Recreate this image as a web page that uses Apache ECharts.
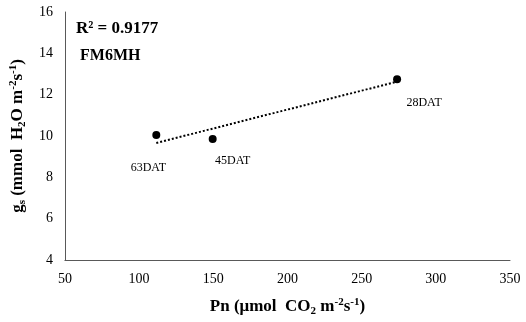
<!DOCTYPE html>
<html>
<head>
<meta charset="utf-8">
<script src="https://cdn.jsdelivr.net/npm/echarts@6/dist/echarts.min.js"></script>
<style>
  html, body { margin: 0; padding: 0; background: #fff; }
  #chart { width: 526px; height: 322px; }
</style>
</head>
<body>
<div id="chart"></div>
<script type="text/javascript">
	// Pn vs gs, FM6MH
	var stages = ['63DAT', '45DAT', '28DAT'];
	var pn = [111.6, 149.6, 273.9];
	var gs = [10.05, 9.85, 12.75];
	var labelOffsets = [[-8, 33], [20, 22], [27, 24]];

	// least squares trendline from the points
	function linearFit(xs, ys) {
		var n = xs.length, mx = 0, my = 0, sxy = 0, sxx = 0;
		for (var i = 0; i < n; i++) { mx += xs[i] / n; my += ys[i] / n; }
		for (var j = 0; j < n; j++) {
			sxy += (xs[j] - mx) * (ys[j] - my);
			sxx += (xs[j] - mx) * (xs[j] - mx);
		}
		var b = sxy / sxx;
		return { slope: b, intercept: my - b * mx };
	}
	var fit = linearFit(pn, gs);
	var xMin = Math.min.apply(null, pn), xMax = Math.max.apply(null, pn);
	var trend = [
		[xMin, fit.intercept + fit.slope * xMin],
		[xMax, fit.intercept + fit.slope * xMax]
	];

	var font = '"Liberation Serif", "Times New Roman", serif';
	var pts = [];
	for (var i = 0; i < stages.length; i++) {
		pts.push({
			value: [pn[i], gs[i]],
			label: { offset: labelOffsets[i] }
		});
	}

	var richName = {
		n: { fontFamily: font, fontSize: 17, fontWeight: 'bold', color: '#000', lineHeight: 20, verticalAlign: 'middle' },
		sub: { fontFamily: font, fontSize: 11, fontWeight: 'bold', color: '#000', lineHeight: 20, verticalAlign: 'bottom' },
		sup: { fontFamily: font, fontSize: 11, fontWeight: 'bold', color: '#000', lineHeight: 20, verticalAlign: 'top' }
	};

	var chart = echarts.init(document.getElementById('chart'));
	var option = {
		animation: false,
		title: [
			{
				text: 'R² = 0.9177',
				left: 71, top: 15,
				textStyle: { fontFamily: font, fontSize: 17, fontWeight: 'bold', color: '#000' }
			},
			{
				text: 'FM6MH',
				left: 75, top: 43,
				textStyle: { fontFamily: font, fontSize: 16, fontWeight: 'bold', color: '#000' }
			}
		],
		grid: { left: 62, right: 16, top: 12, bottom: 56 },
		xAxis: {
			type: 'value',
			min: 50, max: 350, interval: 50,
			name: '{n|Pn (μmol  CO}{sub|2}{n| m}{sup|-2}{n|s}{sup|-1}{n|)}',
			nameLocation: 'middle',
			nameGap: 37,
			nameTextStyle: { fontFamily: font, color: '#000', rich: richName },
			axisLine: { lineStyle: { color: '#595959', width: 1 } },
			axisTick: { show: false },
			splitLine: { show: false },
			axisLabel: { fontFamily: font, fontSize: 14, color: '#000', margin: 12 }
		},
		yAxis: {
			type: 'value',
			min: 4, max: 16, interval: 2,
			name: '{n|g}{sub|s}{n| (mmol  H}{sub|2}{n|O m}{sup|-2}{n|s}{sup|-1}{n|)}',
			nameLocation: 'middle',
			nameRotate: 90,
			nameGap: 31,
			nameTextStyle: { fontFamily: font, color: '#000', rich: richName },
			axisLine: { show: true, lineStyle: { color: '#595959', width: 1 } },
			axisTick: { show: false },
			splitLine: { show: false },
			axisLabel: { fontFamily: font, fontSize: 14, color: '#000', margin: 12 }
		},
		series: [
			{
				name: 'trend',
				type: 'line',
				data: trend,
				symbol: 'none',
				lineStyle: { type: [2, 2], color: '#000', width: 2 },
				z: 1
			},
			{
				name: 'FM6MH',
				type: 'scatter',
				data: pts,
				symbol: 'circle',
				symbolSize: 8,
				itemStyle: { color: '#000', opacity: 1 },
				label: {
					show: true,
					position: 'inside',
					formatter: function (p) { return stages[p.dataIndex]; },
					fontFamily: font, fontSize: 12, color: '#000'
				},
				z: 2
			}
		]
	};
	chart.setOption(option);
	window.onresize = function () {
		chart.resize();
	};
</script>
</body>
</html>
